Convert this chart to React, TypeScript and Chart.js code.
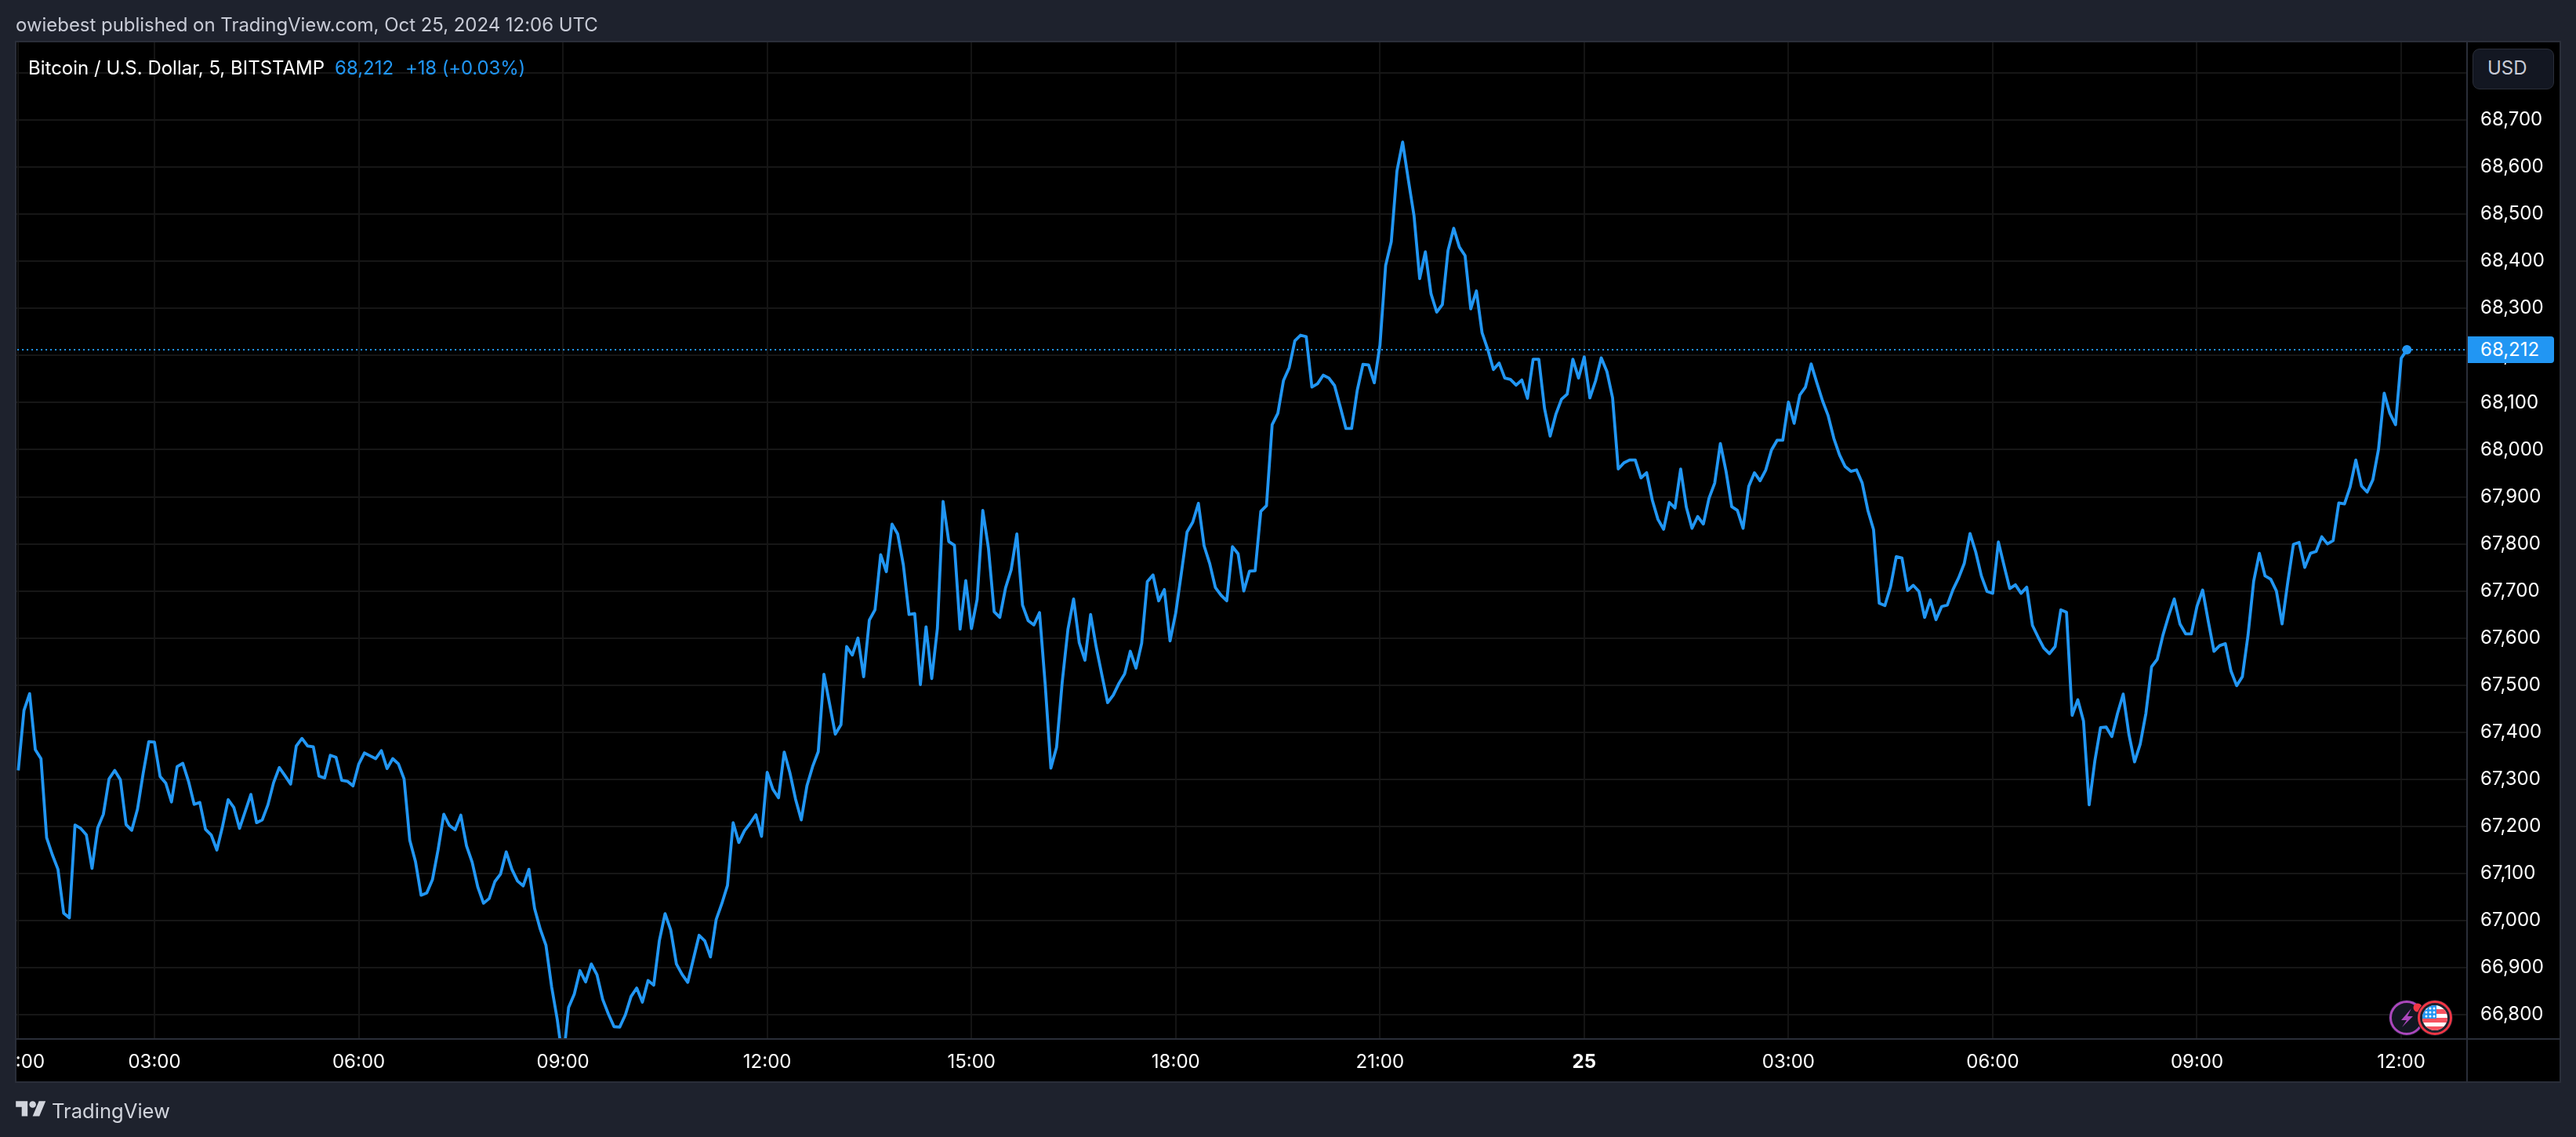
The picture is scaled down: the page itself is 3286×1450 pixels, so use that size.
import React, { useEffect, useRef } from "react";
import { Chart, registerables } from "chart.js";

Chart.register(...registerables);

// 5-minute closes, first bar is at the left edge of the pane
const closes01to05 = [
  67319, 67446, 67482, 67363, 67344, 67176, 67140, 67109, 67016, 67006, 67203, 67196, 67182, 67111, 67197, 67226, 67301, 67319, 67299, 67204, 67192, 67236, 67312, 67380,
  67379, 67306, 67292, 67252, 67327, 67334, 67296, 67247, 67251, 67194, 67182, 67150, 67200, 67257, 67240, 67196, 67232, 67268, 67208, 67214, 67246, 67293, 67325, 67308, 67290, 67371, 67387, 67371, 67369, 67307, 67303, 67351, 67347, 67298, 67296, 67286,
];
const closes06to08 = [
  67332, 67356, 67350, 67344, 67361, 67323, 67344, 67333, 67301, 67171, 67126, 67054, 67059, 67087, 67151, 67226, 67202, 67193, 67224, 67159, 67124, 67071, 67037, 67047, 67083, 67099, 67146, 67109, 67084, 67074, 67109, 67026, 66982, 66948, 66860, 66790,
];
const closes09to11 = [
  66700, 66816, 66844, 66894, 66870, 66908, 66885, 66833, 66802, 66775, 66774, 66800, 66839, 66857, 66827, 66873, 66863, 66958, 67015, 66980, 66908, 66886, 66869, 66919, 66969, 66957, 66923, 67002, 67036, 67075, 67208, 67166, 67191, 67207, 67225, 67179,
];
const closes12to14 = [
  67315, 67279, 67261, 67358, 67314, 67258, 67214, 67286, 67327, 67359, 67523, 67460, 67396, 67416, 67582, 67564, 67600, 67518, 67638, 67660, 67777, 67741, 67842, 67821, 67755, 67650, 67652, 67501, 67624, 67514, 67621, 67890, 67805, 67797, 67619, 67722,
];
const closes15to17 = [
  67620, 67682, 67871, 67790, 67656, 67644, 67706, 67745, 67821, 67670, 67637, 67628, 67654, 67501, 67324, 67368, 67507, 67618, 67683, 67590, 67553, 67650, 67580, 67521, 67463, 67479, 67504, 67524, 67572, 67536, 67589, 67720, 67734, 67679, 67703, 67594,
];
const closes18to20 = [
  67653, 67738, 67825, 67846, 67886, 67796, 67758, 67707, 67691, 67679, 67794, 67779, 67700, 67742, 67743, 67869, 67881, 68053, 68077, 68147, 68174, 68231, 68243, 68240, 68133, 68140, 68158, 68152, 68136, 68091, 68045, 68045, 68126, 68181, 68180, 68142,
];
const closes21to23 = [
  68222, 68391, 68442, 68592, 68653, 68573, 68497, 68363, 68420, 68331, 68292, 68308, 68423, 68470, 68430, 68412, 68299, 68337, 68248, 68213, 68170, 68184, 68152, 68149, 68137, 68148, 68109, 68192, 68192, 68088, 68029, 68075, 68107, 68118, 68192, 68152,
];
const closes00to02 = [
  68197, 68110, 68146, 68195, 68166, 68110, 67959, 67972, 67978, 67978, 67940, 67951, 67893, 67852, 67831, 67888, 67876, 67959, 67878, 67833, 67858, 67842, 67897, 67929, 68013, 67954, 67879, 67871, 67833, 67922, 67951, 67934, 67957, 67999, 68020, 68020,
];
const closes03to05 = [
  68101, 68056, 68116, 68133, 68182, 68142, 68104, 68072, 68024, 67989, 67964, 67954, 67957, 67929, 67871, 67830, 67674, 67669, 67709, 67773, 67770, 67701, 67712, 67699, 67644, 67681, 67639, 67667, 67670, 67703, 67728, 67759, 67822, 67783, 67732, 67699,
];
const closes06to08b = [
  67695, 67804, 67754, 67705, 67713, 67695, 67708, 67627, 67602, 67579, 67567, 67582, 67660, 67655, 67436, 67469, 67424, 67246, 67339, 67410, 67411, 67391, 67440, 67481, 67396, 67337, 67375, 67440, 67539, 67555, 67606, 67647, 67683, 67630, 67609, 67609,
];
const closes09to12 = [
  67667, 67702, 67635, 67572, 67584, 67588, 67530, 67499, 67518, 67606, 67721, 67780, 67732, 67725, 67700, 67630, 67718, 67799, 67803, 67750, 67780, 67784, 67815, 67800, 67807, 67887, 67885, 67921, 67978, 67923, 67910, 67936, 68001, 68120, 68077, 68053, 68194, 68212,
];

const priceTicks = [66800, 66900, 67000, 67100, 67200, 67300, 67400, 67500, 67600, 67700, 67800, 67900, 68000, 68100, 68200, 68300, 68400, 68500, 68600, 68700, 68800];
const unlabelledPrice = 68800;
const timeTickBars = [0, 24, 60, 96, 132, 168, 204, 240, 276, 312, 348, 384, 420];
const timeTickLabels = ["00:00", "03:00", "06:00", "09:00", "12:00", "15:00", "18:00", "21:00", "25", "03:00", "06:00", "09:00", "12:00"];
const lastPrice = 68212;

const closes = [
  ...closes01to05, ...closes06to08, ...closes09to11, ...closes12to14, ...closes15to17, ...closes18to20,
  ...closes21to23, ...closes00to02, ...closes03to05, ...closes06to08b, ...closes09to12,
];

const BG = "#1e222d";
const LINE = "#2a2e39";
const BLUE = "#2196f3";
const FONT = "Inter, 'Noto Sans', sans-serif";

const frame = {
  id: "frame",
  beforeDraw(chart: any) {
    const { ctx, chartArea: a, width, height } = chart;
    ctx.save();
    ctx.fillStyle = BG;
    ctx.fillRect(0, 0, width, height);
    ctx.fillStyle = "#000000";
    ctx.fillRect(a.left - 1, a.top, chart.scales.y.right - a.left + 1, chart.scales.x.bottom - a.top);
    ctx.restore();
  },
  afterDraw(chart: any) {
    const { ctx, chartArea: a, height } = chart;
    const r = chart.scales.y.right;
    const b = chart.scales.x.bottom;
    ctx.save();
    ctx.fillStyle = BG;
    ctx.fillRect(0, a.bottom, a.left - 1, height - a.bottom);
    ctx.strokeStyle = LINE;
    ctx.lineWidth = 2;
    ctx.beginPath();
    ctx.rect(a.left - 1, a.top - 1, r - a.left + 1, b - a.top + 2);
    ctx.moveTo(a.right, a.top);
    ctx.lineTo(a.right, b);
    ctx.moveTo(a.left, a.bottom);
    ctx.lineTo(r, a.bottom);
    ctx.stroke();
    ctx.restore();
  },
};

function Text({ x, y, color, size = 24, children, spacing = 0 }: any) {
  return (
    <div
      style={{
        position: "absolute",
        left: x,
        top: y,
        color,
        fontSize: size,
        fontFamily: FONT,
        lineHeight: "30px",
        letterSpacing: spacing,
        whiteSpace: "nowrap",
      }}
    >
      {children}
    </div>
  );
}

function Badges() {
  return (
    <svg style={{ position: "absolute", left: 3040, top: 1270, width: 92, height: 56 }} viewBox="0 0 92 56">
      <defs>
        <clipPath id="flagClip">
          <circle cx="66" cy="28" r="16" />
        </clipPath>
      </defs>
      <circle cx="30" cy="28" r="23" fill="#131722" />
      <circle cx="30" cy="28" r="20.5" fill="#131722" stroke="#ab47bc" strokeWidth="3" />
      <path d="M36 16 L23 31 L30 31 L24 40 L38 26 L31 26 Z" fill="#ab47bc" />
      <circle cx="44" cy="15" r="5.5" fill="#f23645" />
      <circle cx="66" cy="28" r="23" fill="#131722" />
      <circle cx="66" cy="28" r="20.5" fill="#1e222d" stroke="#f23645" strokeWidth="3" />
      <g clipPath="url(#flagClip)">
        <rect x="50" y="12" width="32" height="32" fill="#ffffff" />
        <rect x="50" y="17" width="32" height="6" fill="#f7525f" />
        <rect x="50" y="28" width="32" height="6" fill="#f7525f" />
        <rect x="50" y="39" width="32" height="6" fill="#f7525f" />
        <rect x="50" y="12" width="18" height="17" fill="#2196f3" />
        <g fill="#ffffff">
          <circle cx="55" cy="16" r="1.5" /><circle cx="60" cy="16" r="1.5" /><circle cx="65" cy="16" r="1.5" />
          <circle cx="55" cy="21" r="1.5" /><circle cx="60" cy="21" r="1.5" /><circle cx="65" cy="21" r="1.5" />
          <circle cx="55" cy="26" r="1.5" /><circle cx="60" cy="26" r="1.5" /><circle cx="65" cy="26" r="1.5" />
        </g>
      </g>
    </svg>
  );
}

export default function App() {
  const ref = useRef<HTMLCanvasElement>(null);

  useEffect(() => {
    document.body.style.margin = "0";
    document.body.style.background = BG;
    const chart = new Chart(ref.current as HTMLCanvasElement, {
      type: "line",
      data: {
        datasets: [
          {
            data: [
              { x: -1, y: lastPrice },
              { x: 432, y: lastPrice },
            ],
            borderColor: BLUE,
            borderWidth: 2,
            borderDash: [2, 4],
            pointRadius: 0,
          },
          {
            data: closes.map((y, x) => ({ x, y })),
            borderColor: BLUE,
            backgroundColor: BLUE,
            borderWidth: 3.8,
            tension: 0,
            borderJoinStyle: "round",
            pointRadius: (c: any) => (c.dataIndex === closes.length - 1 ? 6 : 0),
            pointBorderWidth: 0,
          },
        ],
      },
      options: {
        animation: false,
        responsive: false,
        devicePixelRatio: 1,
        layout: { padding: { left: 21, top: 54, right: 20, bottom: 71 } },
        plugins: { legend: { display: false }, tooltip: { enabled: false } },
        scales: {
          x: {
            type: "linear",
            min: -0.32,
            max: 431.6,
            afterBuildTicks: (s: any) => {
              s.ticks = timeTickBars.map((value) => ({ value }));
            },
            afterFit: (s: any) => {
              s.height = 54;
              s.paddingLeft = 0;
              s.paddingRight = 0;
            },
            grid: { color: "#141414", lineWidth: 2, drawTicks: false },
            border: { display: false },
            ticks: {
              autoSkip: false,
              maxRotation: 0,
              padding: 15,
              color: "#ffffff",
              font: (c: any) => ({ family: FONT, size: 24, weight: c.tick && c.tick.value === 276 ? "bold" : "normal" }),
              callback: (v: any) => timeTickLabels[timeTickBars.indexOf(Number(v))],
            },
          },
          y: {
            type: "linear",
            position: "right",
            min: 66748.8,
            max: 68864.8,
            afterBuildTicks: (s: any) => {
              s.ticks = priceTicks.map((value) => ({ value }));
            },
            afterFit: (s: any) => {
              s.width = 119;
              s.paddingTop = 0;
              s.paddingBottom = 0;
            },
            grid: { color: "#161616", lineWidth: 2, drawTicks: false },
            border: { display: false },
            ticks: {
              autoSkip: false,
              crossAlign: "near",
              padding: 17,
              color: "#ffffff",
              font: { family: FONT, size: 24 },
              callback: (v: any) => (Number(v) === unlabelledPrice ? "" : Number(v).toLocaleString("en-US")),
            },
          },
        },
      },
      plugins: [frame],
    } as any);
    return () => chart.destroy();
  }, []);

  return (
    <div style={{ position: "fixed", left: 0, top: 0, width: 3286, height: 1450, overflow: "hidden", background: BG }}>
      <canvas ref={ref} width={3286} height={1450} style={{ position: "absolute", left: 0, top: 0, display: "block" }} />
      <Text x={20} y={17} color="#c8cbd6" spacing={-0.04}>owiebest published on TradingView.com, Oct 25, 2024 12:06 UTC</Text>
      <Text x={36} y={72} color="#ffffff">Bitcoin / U.S. Dollar, 5, BITSTAMP</Text>
      <Text x={427} y={72} color={BLUE}>68,212</Text>
      <Text x={517} y={72} color={BLUE} spacing={-0.15}>+18 (+0.03%)</Text>
      <div style={{ position: "absolute", left: 3154, top: 62, width: 102, height: 50, background: "#131722", border: "1px solid #2a2e39", borderRadius: 9 }} />
      <Text x={3173} y={72} color="#c8cbd6">USD</Text>
      <div style={{ position: "absolute", left: 3148, top: 429, width: 110, height: 34, background: BLUE, borderRadius: "0 4px 4px 0" }} />
      <Text x={3164} y={431} color="#ffffff">{lastPrice.toLocaleString("en-US")}</Text>
      <Badges />
      <svg style={{ position: "absolute", left: 20, top: 1400, width: 39, height: 30 }} viewBox="0 0 36 28" fill="#d1d4dc">
        <path d="M14 22H7V11H0V4h14v18zM28 22h-8l7.5-18h8L28 22z" />
        <circle cx="20" cy="8" r="4" />
      </svg>
      <Text x={66} y={1402} color="#d1d4dc" size={25.6}>TradingView</Text>
    </div>
  );
}
